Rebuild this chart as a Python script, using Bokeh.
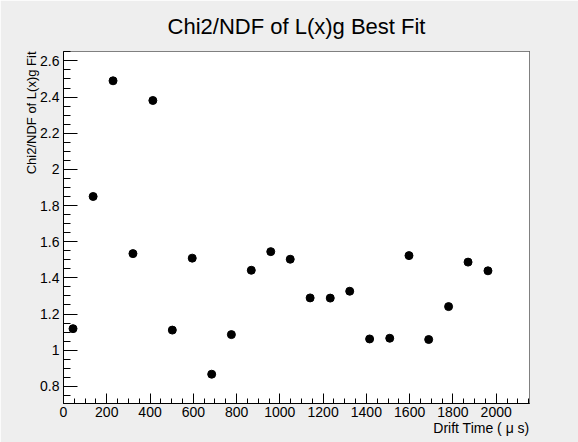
from bokeh.plotting import figure
from bokeh.models import (Range1d, SingleIntervalTicker, CustomJSTickFormatter, Title,
                          ColumnDataSource, BoxAnnotation)
from bokeh.embed import file_html
from bokeh.resources import INLINE

# Data
drift_time = [44, 137, 229, 321, 413, 503, 595, 685, 776, 868, 958, 1048,
              1140, 1233, 1323, 1415, 1508, 1597, 1688, 1780, 1870, 1962]
chi2_ndf = [1.119, 1.850, 2.490, 1.534, 2.381, 1.111, 1.509, 0.867, 1.086, 1.442, 1.545,
            1.503, 1.289, 1.288, 1.326, 1.062, 1.066, 1.523, 1.059, 1.241, 1.487, 1.439]

title_text = "Chi2/NDF of L(x)g Best Fit"
x_label = "Drift Time ( \u03bc s)"
y_label = "Chi2/NDF of L(x)g Fit"

FONT = "Liberation Sans"

source = ColumnDataSource(data=dict(x=drift_time, y=chi2_ndf))

p = figure(width=578, height=442, output_backend="svg", toolbar_location=None,
           x_range=Range1d(0, 2154), y_range=Range1d(0.705, 2.652),
           min_border_left=63, min_border_right=49, min_border_top=51, min_border_bottom=39)

p.title.text = title_text
p.title.align = "center"
p.title.vertical_align = "top"
p.title.text_font = FONT
p.title.text_font_size = "22px"
p.title.text_font_style = "normal"
p.title.text_color = "black"
p.title.standoff = 21
p.title.offset = 3

p.background_fill_color = "white"
p.border_fill_color = "#eeeeee"
p.outline_line_color = "black"
p.outline_line_width = 1
p.grid.visible = False

# white canvas area (ROOT pad) over the grey page
canvas = BoxAnnotation(left=5, right=565, top=8, bottom=431,
                       left_units="canvas", right_units="canvas",
                       top_units="canvas", bottom_units="canvas",
                       fill_color="white", fill_alpha=1.0, line_color=None,
                       level="underlay", editable=False)
p.add_layout(canvas)

p.scatter("x", "y", source=source, size=8, color="black", marker="circle")

p.xaxis.ticker = SingleIntervalTicker(interval=200, num_minor_ticks=4)
p.yaxis.ticker = SingleIntervalTicker(interval=0.2, num_minor_ticks=4)
p.yaxis.formatter = CustomJSTickFormatter(code="return (Math.round(tick*10)/10).toString();")

for ax in (p.xaxis[0], p.yaxis[0]):
    ax.axis_line_color = "black"
    ax.major_tick_line_color = "black"
    ax.minor_tick_line_color = "black"
    ax.major_tick_out = 0
    ax.minor_tick_out = 0
    ax.major_label_text_font = FONT
    ax.major_label_text_font_size = "14px"
    ax.major_label_text_color = "black"

p.xaxis.major_tick_in = 10
p.xaxis.minor_tick_in = 5
p.xaxis.major_label_standoff = 3
p.yaxis.major_tick_in = 14
p.yaxis.minor_tick_in = 7
p.yaxis.major_label_standoff = 4

p.add_layout(Title(text=y_label, align="right", text_font=FONT, text_font_size="13px",
                   text_font_style="normal", text_color="black", standoff=-2), "left")
p.add_layout(Title(text=x_label, align="right", text_font=FONT, text_font_size="14px",
                   text_font_style="normal", text_color="black", standoff=-4), "below")

open("out.html", "w").write(file_html(p, INLINE))
